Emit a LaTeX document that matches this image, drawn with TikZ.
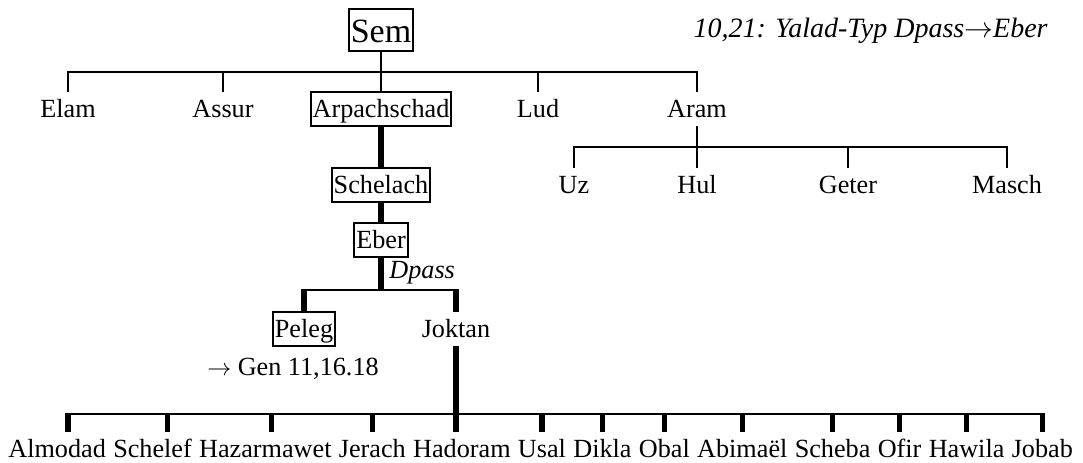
\documentclass[tikz,border=0pt]{standalone}
\usepackage{fontspec}
\setmainfont{Liberation Serif}
\tikzset{
  lbl/.style={font=\fontsize{13.1pt}{15pt}\selectfont, inner xsep=1pt, inner ysep=0.5pt,
              text height=11.9pt, text depth=4pt, anchor=base},
  box/.style={lbl, draw, line width=1pt},
  word/.style={lbl, inner xsep=0pt, anchor=base west},
  ln/.style={line width=1pt},
  thk/.style={line width=2.8pt, shorten <=-0.5pt},
}
\begin{document}
\begin{tikzpicture}[x=0.5pt,y=-0.5pt]
\useasboundingbox (0,0) rectangle (1083,462);
% level coordinates
\coordinate (t1) at (0,72);
\coordinate (t2) at (0,147);
\coordinate (t3) at (0,290);
\coordinate (t4) at (0,414);
% top
\node[box, font=\fontsize{17pt}{20pt}\selectfont, text height=16.2pt, text depth=4pt] (sem) at (381,42) {Sem};
\node[lbl, font=\fontsize{14pt}{16pt}\selectfont\itshape, anchor=base east, inner sep=0pt] (note) at (1048,37) {10,21: Yalad-Typ Dpass$\rightarrow$Eber};
% first generation
\node[lbl] (elam) at (68,117) {Elam};
\node[lbl] (assur) at (223,117) {Assur};
\node[box] (arp) at (381,117) {Arpachschad};
\node[lbl] (lud) at (538,117) {Lud};
\node[lbl] (aram) at (697,117) {Aram};
% Aram's sons
\node[lbl] (uz) at (574,193) {Uz};
\node[lbl] (hul) at (697,193) {Hul};
\node[lbl] (geter) at (848,193) {Geter};
\node[lbl] (masch) at (1007,193) {Masch};
% line of Eber
\node[box] (schelach) at (381,193) {Schelach};
\node[box] (eber) at (381,248) {Eber};
\node[lbl, font=\fontsize{13.1pt}{15pt}\selectfont\itshape, anchor=base west, inner sep=0pt] (dpass) at (389,278) {Dpass};
\node[box] (peleg) at (304,337) {Peleg};
\node[lbl] (joktan) at (456,337) {Joktan};
\node[lbl] (gen) at (293,375) {$\rightarrow$ Gen 11,16.18};
% Joktan's sons
\node[word] (b1) at (8,457) {Almodad};
\node[word] (b2) at ([xshift=3.275pt]b1.base east) {Schelef};
\node[word] (b3) at ([xshift=3.275pt]b2.base east) {Hazarmawet};
\node[word] (b4) at ([xshift=3.275pt]b3.base east) {Jerach};
\node[word] (b5) at ([xshift=3.275pt]b4.base east) {Hadoram};
\node[word] (b6) at ([xshift=3.275pt]b5.base east) {Usal};
\node[word] (b7) at ([xshift=3.275pt]b6.base east) {Dikla};
\node[word] (b8) at ([xshift=3.275pt]b7.base east) {Obal};
\node[word] (b9) at ([xshift=3.275pt]b8.base east) {Abimaël};
\node[word] (b10) at ([xshift=3.275pt]b9.base east) {Scheba};
\node[word] (b11) at ([xshift=3.275pt]b10.base east) {Ofir};
\node[word] (b12) at ([xshift=3.275pt]b11.base east) {Hawila};
\node[word] (b13) at ([xshift=3.275pt]b12.base east) {Jobab};
% connectors: Sem
\draw[ln] (sem.south) -- (arp.north);
\draw[ln] (elam.north) -- (elam.north |- t1) -- (aram.north |- t1) -- (aram.north);
\draw[ln] (assur.north) -- (assur.north |- t1);
\draw[ln] (lud.north) -- (lud.north |- t1);
% Aram
\draw[ln] (aram.south) -- (aram.south |- t2);
\draw[ln] (uz.north) -- (uz.north |- t2) -- (masch.north |- t2) -- (masch.north);
\draw[ln] (hul.north) -- (hul.north |- t2);
\draw[ln] (geter.north) -- (geter.north |- t2);
% Arpachschad line
\draw[thk, shorten <=0pt] (arp.south) -- (schelach.north);
\draw[thk, shorten <=0pt] (schelach.south) -- (eber.north);
\draw[thk, shorten <=0pt, shorten >=-0.5pt] (eber.south) -- (eber.south |- t3);
\draw[ln] (peleg.north |- t3) -- (joktan.north |- t3);
\draw[thk] (peleg.north |- t3) -- (peleg.north);
\draw[thk] (joktan.north |- t3) -- (joktan.north);
% Joktan
\draw[thk, shorten <=0pt] (joktan.south) -- (joktan.south |- b5.north);
\draw[ln] ([xshift=5.5pt]b1.north |- t4) -- (b13.north |- t4);
\draw[thk] ([xshift=5.5pt]b1.north |- t4) -- ([xshift=5.5pt]b1.north);
\draw[thk] ([xshift=7.5pt]b2.north |- t4) -- ([xshift=7.5pt]b2.north);
\draw[thk] ([xshift=3pt]b3.north |- t4) -- ([xshift=3pt]b3.north);
\foreach \b in {b4,b6,b7,b8,b9,b10,b11,b12,b13}
  \draw[thk] (\b.north |- t4) -- (\b.north);
\end{tikzpicture}
\end{document}
